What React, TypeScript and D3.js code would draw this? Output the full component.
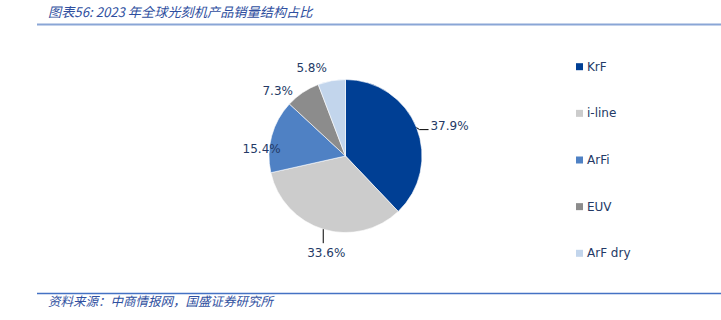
import React from "react";
import * as d3 from "d3";

const categories = ["KrF", "i-line", "ArFi", "EUV", "ArF dry"];
const values = [37.9, 33.6, 15.4, 7.3, 5.8];
const labels = ["37.9%", "33.6%", "15.4%", "7.3%", "5.8%"];
const colors = ["#003f94", "#cccccc", "#4f81c4", "#8c8c8c", "#c2d5ec"];
const title = "图表56: 2023 年全球光刻机产品销量结构占比";
const source = "资料来源：中商情报网，国盛证券研究所";

const W = 721;
const H = 320;
const cx = 345.5;
const cy = 156;
const R = 76.5;
// label offsets from the slice's outer mid point (layout only)
const labelOffsets: [number, number][] = [
  [33, -2],
  [3, 24],
  [-10, 13],
  [-25, -2],
  [-20, -13],
];
const textColor = "#243a66";

export default function App() {
  const pie = d3.pie<number>().value((d) => d).sort(null);
  const arcs = pie(values);
  const arc = d3.arc<d3.PieArcDatum<number>>().innerRadius(0).outerRadius(R);
  const legendY = d3.scalePoint<string>().domain(categories).range([66.7, 253.3]);

  const outer = (a: d3.PieArcDatum<number>, r: number) => {
    const m = (a.startAngle + a.endAngle) / 2;
    return [Math.sin(m) * r, -Math.cos(m) * r];
  };

  return (
    <svg
      width={W}
      height={H}
      style={{ position: "absolute", left: 0, top: 0, background: "#fff" }}
      fontFamily="'DejaVu Sans', Verdana, sans-serif"
    >
      <text
        x={48}
        y={17}
        fontSize={13.2}
        fontStyle="italic"
        fill="#2f4fa0"
        fontFamily="'Noto Sans CJK SC', sans-serif"
      >
        {title}
      </text>
      <line x1={37} x2={W} y1={24.5} y2={24.5} stroke="#8aa6d6" strokeWidth={2} />

      <g transform={`translate(${cx},${cy})`}>
        {arcs.map((a, i) => (
          <path key={categories[i]} d={arc(a) || ""} fill={colors[i]} stroke="#fff" strokeWidth={0.6} />
        ))}
        {arcs.map((a, i) => {
          const [px, py] = outer(a, R);
          const [dx, dy] = labelOffsets[i];
          return (
            <text
              key={"l" + i}
              x={px + dx}
              y={py + dy}
              textAnchor="middle"
              dominantBaseline="central"
              fontSize={12}
              fill={textColor}
            >
              {labels[i]}
            </text>
          );
        })}
        {(() => {
          const [px, py] = outer(arcs[0], R);
          return (
            <polyline
              points={`${px},${py} ${px + 3},${py + 2} ${px + 12},${py + 2}`}
              fill="none"
              stroke="#000"
              strokeWidth={1}
            />
          );
        })()}
        {(() => {
          const [px, py] = outer(arcs[1], R);
          return <line x1={px} x2={px} y1={py} y2={py + 14} stroke="#000" strokeWidth={1} />;
        })()}
      </g>

      {categories.map((c, i) => (
        <g key={c} transform={`translate(576,${legendY(c)})`}>
          <rect x={0} y={-3.5} width={7} height={7} fill={colors[i]} />
          <text x={11} y={0} dominantBaseline="central" fontSize={12} fill={textColor}>
            {c}
          </text>
        </g>
      ))}

      <line x1={37} x2={W} y1={293.5} y2={293.5} stroke="#4472c4" strokeWidth={1.5} />
      <text
        x={48}
        y={306}
        fontSize={12.5}
        fontStyle="italic"
        fill="#2f4fa0"
        fontFamily="'Noto Sans CJK SC', sans-serif"
      >
        {source}
      </text>
    </svg>
  );
}
